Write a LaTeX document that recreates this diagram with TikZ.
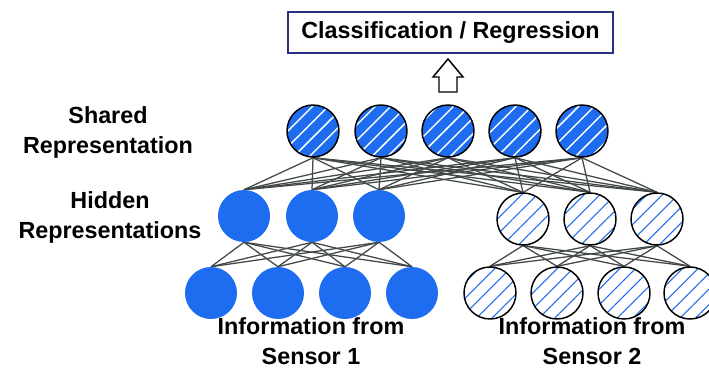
\documentclass[tikz,border=0pt]{standalone}
\usepackage{fontspec}
\setmainfont{Liberation Sans}
\usetikzlibrary{patterns.meta,backgrounds}
\definecolor{nblue}{RGB}{30,108,240}
\definecolor{edgec}{RGB}{66,71,71}
\definecolor{navy}{RGB}{40,50,130}
\tikzset{
  neuron/.style={circle, minimum size=39pt, inner sep=0pt},
  solidn/.style={neuron, fill=nblue},
  sharedn/.style={neuron, draw=black, line width=1.1pt, preaction={fill=nblue},
    pattern={Lines[angle=45,distance=8.3pt,line width=1.1pt]}, pattern color=white},
  hatchn/.style={neuron, draw=black, line width=1.1pt, preaction={fill=white},
    pattern={Lines[angle=45,distance=8.3pt,line width=0.8pt]}, pattern color=nblue},
  conn/.style={draw=edgec, line width=0.95pt},
  lbl/.style={font=\fontsize{17.5}{22.5}\selectfont\bfseries, align=center, inner sep=0pt},
  outbox/.style={draw=navy, line width=1.1pt, minimum width=243.75pt, minimum height=30.75pt, inner sep=0pt, font=\fontsize{17.5}{22.5}\selectfont\bfseries}
}
\begin{document}
\begin{tikzpicture}[x=0.75pt,y=-0.75pt]
\useasboundingbox (0,0) rectangle (709,372);
% output box and arrow
\node[outbox] (out) at (450.5,32.5) {Classification / Regression};
\draw[line width=1.1pt, line join=miter] (439,92) -- (457,92) -- (457,77) -- (463,77) -- (448,59) -- (433,77) -- (439,77) -- cycle;
% shared layer
\foreach \i/\x in {1/313,2/381,3/448,4/515,5/582}
  \node[sharedn] (s\i) at (\x,131) {};
% hidden left
\foreach \i/\x in {1/244,2/312,3/379}
  \node[solidn] (hl\i) at (\x,216) {};
% hidden right
\foreach \i/\x in {1/523,2/590,3/657}
  \node[hatchn] (hr\i) at (\x,219) {};
% inputs left
\foreach \i/\x in {1/211,2/278,3/345,4/412}
  \node[solidn] (il\i) at (\x,293) {};
% inputs right
\foreach \i/\x in {1/490,2/557,3/624,4/690}
  \node[hatchn] (ir\i) at (\x,293) {};
% connections
\begin{scope}[on background layer]
  \foreach \s in {1,...,5}{
    \foreach \h in {1,2,3}{
      \draw[conn] (hl\h.north) -- (s\s.south);
      \draw[conn] (hr\h.north) -- (s\s.south);
    }
  }
  \foreach \h in {1,2,3}{
    \foreach \k in {1,...,4}{
      \draw[conn] (il\k.north) -- (hl\h.south);
      \draw[conn] (ir\k.north) -- (hr\h.south);
    }
  }
\end{scope}
% labels
\node[lbl] (lshared) at (108,132) {Shared\\Representation};
\node[lbl] (lhidden) at (110,217.5) {Hidden\\Representations};
\node[lbl] (ls1) at (311,341) {Information from\\Sensor 1};
\node[lbl] (ls2) at (592,341) {Information from\\Sensor 2};
\end{tikzpicture}
\end{document}
